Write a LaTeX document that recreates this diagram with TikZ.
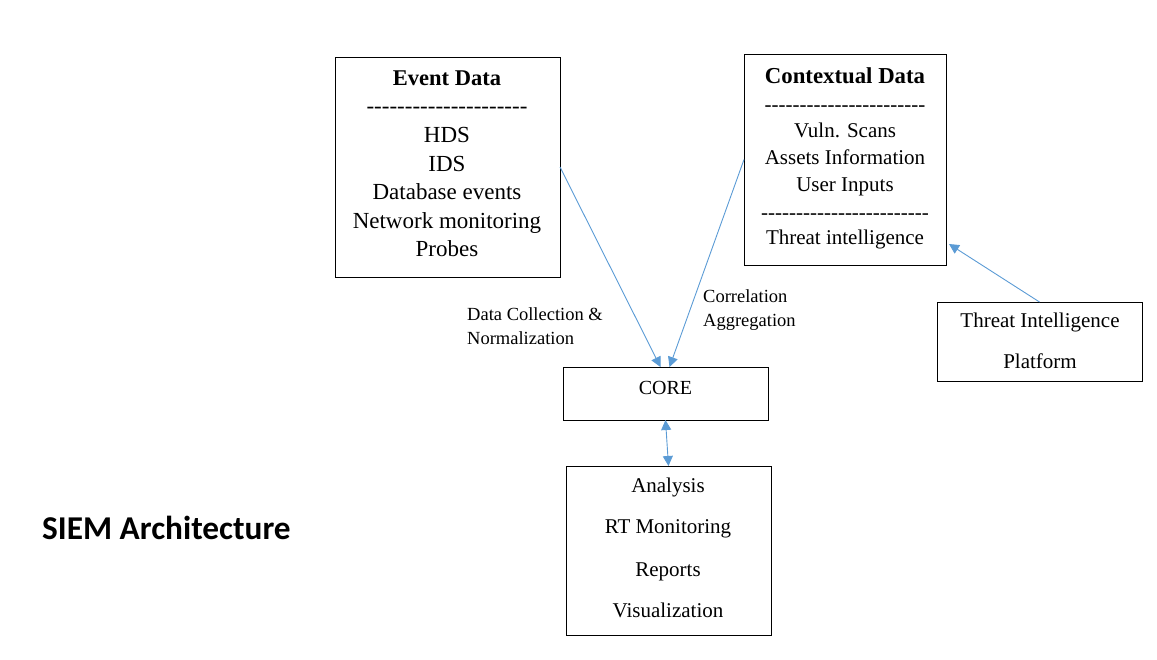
\documentclass[tikz,border=0pt]{standalone}
\usepackage{fontspec}
\setmainfont{Liberation Serif}
\newfontfamily\titlefont{Carlito}
\usetikzlibrary{arrows.meta}
\ExplSyntaxOn
\NewDocumentCommand\dashrow{m}{\prg_replicate:nn{#1}{-\kern0pt}}
\ExplSyntaxOff
\definecolor{arrblue}{RGB}{91,155,213}
\tikzset{
  box/.style={draw=black, line width=1pt, inner sep=0pt, outer sep=0pt},
  txt/.style={inner sep=0pt, text height=0pt, text depth=0pt},
  evfont/.style={font=\fontsize{23}{27}\selectfont, yshift=-7.6pt},
  evhead/.style={font=\bfseries\fontsize{22.5}{27}\selectfont, yshift=-7.4pt},
  ctfont/.style={font=\fontsize{21}{25}\selectfont, yshift=-6.9pt},
  cthead/.style={font=\bfseries\fontsize{22.8}{27}\selectfont, yshift=-7.5pt},
  lblfont/.style={font=\fontsize{18.5}{22}\selectfont, yshift=-6.1pt},
  corefont/.style={font=\fontsize{20}{24}\selectfont, yshift=-6.6pt},
  arr/.style={draw=arrblue, line width=0.9pt, -{Triangle[length=10pt,width=10pt]}},
  darr/.style={draw=arrblue, line width=0.9pt, {Triangle[length=10pt,width=10pt]}-{Triangle[length=10pt,width=10pt]}}
}
\begin{document}
\begin{tikzpicture}[x=1pt,y=-1pt]
\useasboundingbox (0,0) rectangle (1157,659);
% boxes
\node[box, minimum width=225pt, minimum height=220pt] (event) at (447.5,167) {};
\node[box, minimum width=202pt, minimum height=211pt] (ctx) at (845,159.5) {};
\node[box, minimum width=205pt, minimum height=79pt] (tip) at (1039.5,341.5) {};
\node[box, minimum width=205pt, minimum height=53pt] (core) at (665.5,393.5) {};
\node[box, minimum width=205pt, minimum height=169pt] (out) at (668.5,550.5) {};
% event data text
\node[txt, evhead] (evh) at (447,78.5) {Event Data};
\node[txt, evfont] (evd) at (447,106) {\dashrow{21}};
\node[txt, evfont] (ev1) at (447,135) {HDS};
\node[txt, evfont] (ev2) at (447,163.5) {IDS};
\node[txt, evfont] (ev3) at (447,192) {Database events};
\node[txt, evfont] (ev4) at (447,220.5) {Network monitoring};
\node[txt, evfont] (ev5) at (447,249) {Probes};
% contextual data text
\node[txt, cthead] (cth) at (845,76) {Contextual Data};
\node[txt, ctfont] (ctd1) at (845,104.5) {\dashrow{23}};
\node[txt, ctfont] (ct1) at (845,131) {Vuln. Scans};
\node[txt, ctfont] (ct2) at (845,158) {Assets Information};
\node[txt, ctfont] (ct3) at (845,185) {User Inputs};
\node[txt, ctfont] (ctd2) at (845,212.5) {\dashrow{24}};
\node[txt, ctfont] (ct4) at (845,237.5) {Threat intelligence};
% TIP text
\node[txt, ctfont] (tp1) at (1040,321) {Threat Intelligence};
\node[txt, ctfont] (tp2) at (1040,362) {Platform};
% core
\node[txt, corefont] (coret) at (665.5,388) {CORE};
% output text
\node[txt, ctfont] (o1) at (668,486) {Analysis};
\node[txt, ctfont] (o2) at (668,527) {RT Monitoring};
\node[txt, ctfont] (o3) at (668,570) {Reports};
\node[txt, ctfont] (o4) at (668,611) {Visualization};
% labels
\node[txt, lblfont, anchor=west] (l1) at (467,314.5) {Data Collection \&};
\node[txt, lblfont, anchor=west] (l2) at (467,338.5) {Normalization};
\node[txt, lblfont, anchor=west] (l3) at (703,296.5) {Correlation};
\node[txt, lblfont, anchor=west] (l4) at (703,320.5) {Aggregation};
% title
\node[inner sep=0pt, anchor=base west, font=\titlefont\bfseries\fontsize{33.3}{38}\selectfont] (title) at (42,539) {SIEM Architecture};
% connectors
\coordinate (tiptarget) at (949,244);
\draw[arr] (event.east) -- ([xshift=-5pt]core.north);
\draw[arr] (ctx.west) -- ([xshift=4pt]core.north);
\draw[arr] (tip.north) -- (tiptarget);
\draw[darr] (core.south) -- (out.north);
\end{tikzpicture}
\end{document}
